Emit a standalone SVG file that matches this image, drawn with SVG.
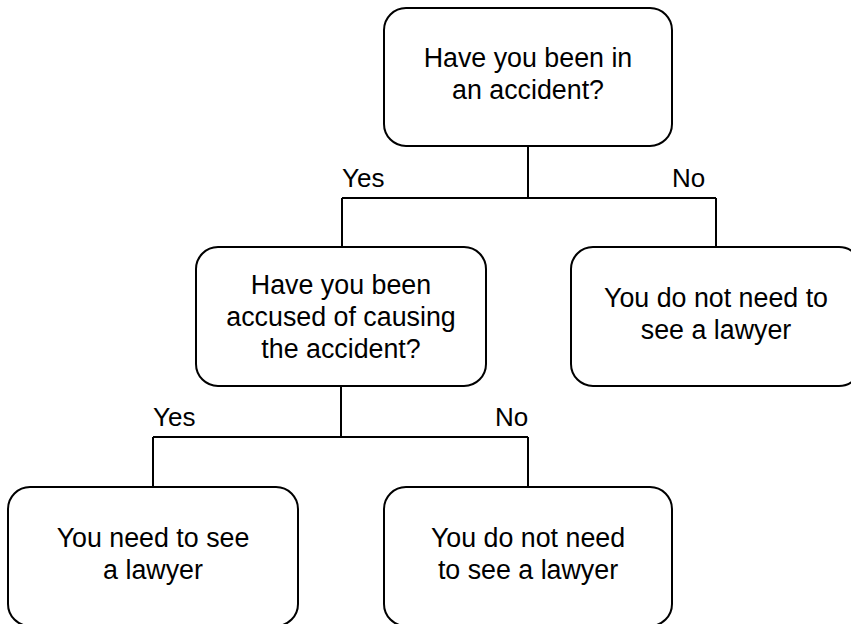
<svg xmlns="http://www.w3.org/2000/svg" width="851" height="624" viewBox="0 0 851 624">
<style>
.box{fill:#fff;stroke:#000;stroke-width:2}
.t{font-family:"Liberation Sans",Arial,sans-serif;font-size:26.8px;fill:#000;text-anchor:middle}
.lbl{font-family:"Liberation Sans",Arial,sans-serif;font-size:26px;fill:#000}
.c{fill:none;stroke:#000;stroke-width:2}
</style>
<rect width="851" height="624" fill="#fff"/>
<g id="connectors">
<path class="c" d="M528 146 V198 M342 198 H716 M342 198 V247 M716 198 V247"/>
<path class="c" d="M341 386 V437 M153 437 H528 M153 437 V487 M528 437 V487"/>
<text class="lbl" x="342" y="187">Yes</text>
<text class="lbl" x="672" y="187">No</text>
<text class="lbl" x="153" y="426">Yes</text>
<text class="lbl" x="495" y="426">No</text>
</g>
<g id="n1">
<rect class="box" x="384" y="8" width="288" height="138" rx="22"/>
<text class="t" x="528" y="67">Have you been in</text>
<text class="t" x="528" y="99">an accident?</text>
</g>
<g id="n2">
<rect class="box" x="196" y="247" width="290" height="139" rx="22"/>
<text class="t" x="341" y="294">Have you been</text>
<text class="t" x="341" y="326">accused of causing</text>
<text class="t" x="341" y="358">the accident?</text>
</g>
<g id="n3">
<rect class="box" x="571" y="247" width="290" height="139" rx="22"/>
<text class="t" x="716" y="307">You do not need to</text>
<text class="t" x="716" y="339">see a lawyer</text>
</g>
<g id="n4">
<rect class="box" x="8" y="487" width="290" height="139" rx="22"/>
<text class="t" x="153" y="547">You need to see</text>
<text class="t" x="153" y="579">a lawyer</text>
</g>
<g id="n5">
<rect class="box" x="384" y="487" width="288" height="139" rx="22"/>
<text class="t" x="528" y="547">You do not need</text>
<text class="t" x="528" y="579">to see a lawyer</text>
</g>
</svg>
